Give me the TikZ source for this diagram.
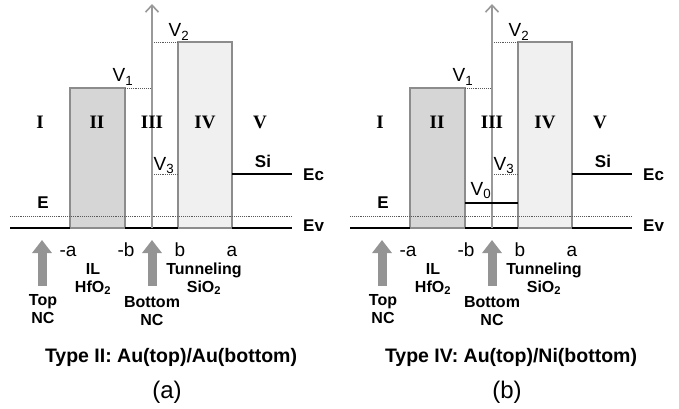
\documentclass[tikz,border=0pt]{standalone}
\usepackage{fontspec}
\setmainfont{Liberation Sans}
\newfontfamily\regionfont{Liberation Serif}
\usetikzlibrary{arrows.meta}

\begin{document}
\begin{tikzpicture}[x=1pt, y=-1pt,
    barrier/.style={draw=black!45, line width=1.1pt},
    level/.style={line width=2.6pt, black},
    guide/.style={line width=0.9pt, densely dotted, black!65},
    axis/.style={line width=1.6pt, black!40, -{Straight Barb[length=7pt, width=13pt]}},
    nc/.style={line width=9pt, black!42, -{Triangle[length=13pt, width=19pt]}},
    region/.style={inner sep=0pt, font=\regionfont\bfseries\fontsize{19}{19}\selectfont},
    value/.style={inner sep=0pt, anchor=base, font=\fontsize{19}{19}\selectfont},
    tag/.style={inner sep=0pt, anchor=base, align=center, font=\bfseries\fontsize{16}{18}\selectfont},
    band/.style={inner sep=0pt, anchor=west, font=\bfseries\fontsize{17}{17}\selectfont}]
  \useasboundingbox (0,0) rectangle (679,409);

  % one band diagram per nanocrystal pair, (a) left and (b) right
  \foreach \p/\dx/\kind/\metal in {a/0/II/Au, b/340/IV/Ni} {
    \begin{scope}[xshift=\dx]
      % the two oxide barriers
      \draw[barrier, fill=black!16] (70,88) rectangle (125,228);
      \draw[barrier, fill=black!6]  (178,42) rectangle (232,228);

      % Fermi level and barrier heights
      \draw[guide] (10,216) -- (293,216);
      \draw[guide] (125,88) -- (152,88);
      \draw[guide] (152,42) -- (178,42);
      \draw[guide] (152,174) -- (178,174);

      % metal and silicon levels
      \draw[level] (10,228) -- (70,228);
      \draw[level] (125,228) -- (178,228);
      \draw[level] (232,228) -- (292,228);
      \draw[level] (232,174) -- (292,174);

      \coordinate (foot\p) at (152,228);
      \coordinate (head\p) at (152,4);
      \draw[axis] (foot\p) -- (head\p);

      \node[value] (V1\p) at (123,82) {V\textsubscript{1}};
      \node[value] (V2\p) at (179,37) {V\textsubscript{2}};
      \node[value] (V3\p) at (164,170) {V\textsubscript{3}};
      \node[band, anchor=base] (E\p)  at (43,208)  {E};
      \node[band, anchor=base] (Si\p) at (263,167) {Si};
      \node[band] (Ec\p) at (303,175) {Ec};
      \node[band] (Ev\p) at (303,226) {Ev};

      \foreach \r/\x in {I/40, II/97, III/152, IV/205, V/260}
        \node[region] (\r\p) at (\x,122) {\r};
      \foreach \n/\e/\x in {ma/-a/68, mb/-b/126, pb/b/180, pa/a/232}
        \node[value] (\n\p) at (\x,256) {\e};

      % where the two nanocrystals sit
      \coordinate (topfoot\p) at (42,286);
      \coordinate (toptip\p)  at (42,240);
      \coordinate (botfoot\p) at (152,286);
      \coordinate (bottip\p)  at (152,240);
      \draw[nc] (topfoot\p) -- (toptip\p);
      \draw[nc] (botfoot\p) -- (bottip\p);

      % the base of a two-line tag is that of its lower line
      \node[tag] (top\p) at (43,323)  {Top\\NC};
      \node[tag] (il\p)  at (93,292)  {IL\\HfO\textsubscript{2}};
      \node[tag] (bot\p) at (152,325) {Bottom\\NC};
      \node[tag] (tun\p) at (204,292) {Tunneling\\SiO\textsubscript{2}};

      \node[tag, font=\bfseries\fontsize{19.5}{19.5}\selectfont] (type\p) at (171,362)
        {Type \kind: Au(top)/\metal(bottom)};
      \node[value, font=\fontsize{24}{24}\selectfont] (cap\p) at (167,398) {(\p)};
    \end{scope}
  }

  % the Ni bottom crystal holds its own level V0
  \draw[level] (465,203) -- (518,203);
  \node[value] (V0b) at (481,195) {V\textsubscript{0}};
\end{tikzpicture}
\end{document}
